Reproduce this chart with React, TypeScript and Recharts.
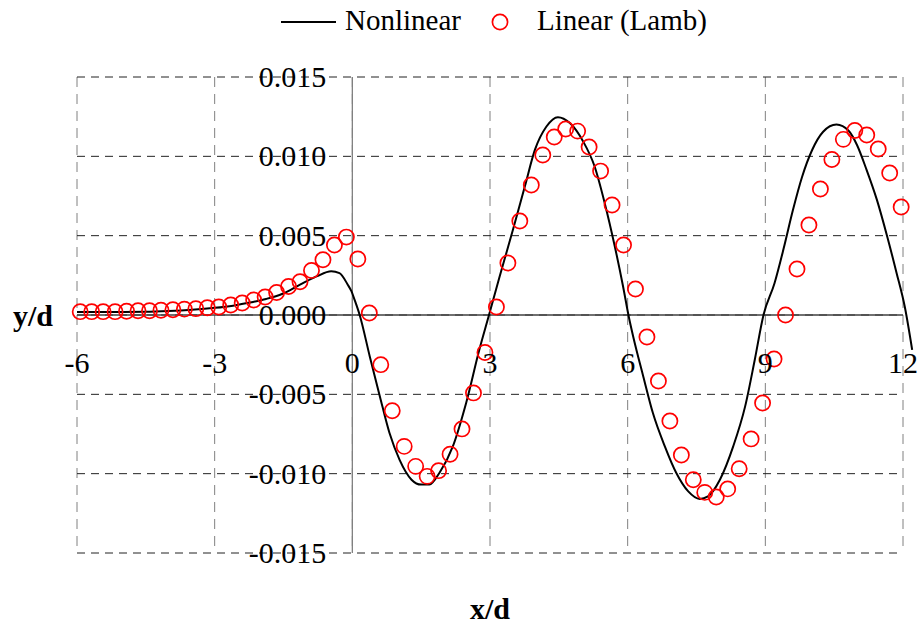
import { ComposedChart, Line, Scatter, XAxis, YAxis, CartesianGrid, ReferenceLine, Legend } from 'recharts';

// Lamb (linear) solution, sampled points
const lambX = [
  -5.93, -5.68, -5.43, -5.17, -4.92, -4.67, -4.42, -4.17, -3.91, -3.66, -3.41, -3.16,
  -2.91, -2.65, -2.4, -2.15, -1.9, -1.65, -1.39, -1.14, -0.89, -0.64, -0.39, -0.13,
  0.12, 0.37, 0.62, 0.87, 1.13, 1.38, 1.63, 1.88, 2.13, 2.39, 2.64, 2.89,
  3.14, 3.39, 3.65, 3.9, 4.15, 4.4, 4.65, 4.91, 5.16, 5.41, 5.66, 5.91,
  6.17, 6.42, 6.67, 6.92, 7.17, 7.43, 7.68, 7.93, 8.18, 8.43, 8.69, 8.94,
  9.19, 9.44, 9.69, 9.95, 10.2, 10.45, 10.7, 10.95, 11.21, 11.46, 11.71, 11.96,
];
const lambY = [
  0.00021, 0.00021, 0.00021, 0.00021, 0.00024, 0.00027, 0.00027, 0.0003, 0.00033, 0.00037, 0.0004, 0.00046,
  0.0005, 0.00063, 0.00076, 0.00095, 0.00113, 0.00142, 0.0018, 0.0021, 0.00281, 0.00348, 0.00441, 0.00491,
  0.00353, 0.00013, -0.00313, -0.00603, -0.00828, -0.00954, -0.01017, -0.00981, -0.00878, -0.00718, -0.00491, -0.00236,
  0.0005, 0.00328, 0.00592, 0.00819, 0.01008, 0.01122, 0.01172, 0.01159, 0.01059, 0.00907, 0.00693, 0.00441,
  0.00164, -0.00139, -0.00416, -0.00668, -0.00882, -0.01038, -0.01118, -0.01147, -0.01096, -0.00969, -0.00781, -0.00555,
  -0.00277, 0.0, 0.0029, 0.00567, 0.00794, 0.0098, 0.01107, 0.01163, 0.01134, 0.01046, 0.00895, 0.00681,
];

// Nonlinear free-surface profile
const nonlinearX = [
  -6.0, -5.0, -4.5, -4.0, -3.5, -3.0, -2.6, -2.2, -1.88, -1.52, -1.14, -0.78, -0.46, -0.28, -0.1, -0.02,
  0.05, 0.16, 0.38, 0.6, 0.81, 1.03, 1.29, 1.5, 1.68, 1.9, 2.19, 2.48, 2.77, 2.96,
  3.21, 3.5, 3.76, 3.98, 4.23, 4.48, 4.74, 5.03, 5.28, 5.5, 5.72, 5.9, 6.03,
  6.12, 6.34, 6.55, 6.81, 7.06, 7.32, 7.57, 7.75, 8.01, 8.3, 8.56, 8.77, 8.96,
  9.2, 9.4, 9.6, 9.8, 10.02, 10.26, 10.55, 10.82, 11.0, 11.2, 11.43, 11.66, 11.86, 12.04, 12.2,
];
const nonlinearY = [
  0.00019, 0.00019, 0.0002, 0.00025, 0.00033, 0.00045, 0.00059, 0.0008, 0.00101, 0.00134, 0.00191, 0.00243, 0.00275, 0.00264, 0.00191, 0.0015,
  0.00095, 0.0, -0.00261, -0.00513, -0.00744, -0.00913, -0.01038, -0.01069, -0.01069, -0.00994, -0.00828, -0.00554, -0.00216, -0.00019,
  0.00243, 0.00537, 0.00811, 0.01042, 0.01188, 0.01247, 0.0121, 0.01094, 0.00936, 0.00705, 0.00432, 0.0018, -0.00019,
  -0.00135, -0.00387, -0.00618, -0.00828, -0.00996, -0.01112, -0.01159, -0.01143, -0.01038, -0.00828, -0.00576, -0.00282, 0.0,
  0.002, 0.0042, 0.0066, 0.0087, 0.0104, 0.01155, 0.012, 0.0116, 0.0107, 0.0092, 0.00727, 0.0049, 0.00265, 0.0005, -0.0022,
];

const xTicks = [-6, -3, 0, 3, 6, 9, 12];
const yTicks = [-0.015, -0.01, -0.005, 0, 0.005, 0.01, 0.015];

const lambData = lambX.map((x, i) => ({ x, y: lambY[i] }));
const nonlinearData = nonlinearX.map((x, i) => ({ x, y: nonlinearY[i] }));

const W = 917;
const H = 625;
const LEGEND_H = 40;
const AXIS_SIZE = 30;
const PLOT_LEFT = 77;
const PLOT_TOP = 77;
const PLOT_RIGHT = 14;
const PLOT_BOTTOM = 72;
const PLOT_W = W - PLOT_LEFT - PLOT_RIGHT;
const PLOT_H = H - PLOT_TOP - PLOT_BOTTOM;
// where the axes cross (x = 0, y = 0)
const AXIS_X = PLOT_LEFT + (PLOT_W * 6) / 18;
const ZERO_Y = PLOT_TOP + PLOT_H / 2;

const SERIF = '"Liberation Serif", "Times New Roman", serif';
const RED = '#ff0000';

const XTick = ({ x, payload }: any) => (
  <text x={x} y={ZERO_Y + 58} textAnchor="middle" fontFamily={SERIF} fontSize={30} fill="#000">
    {payload.value}
  </text>
);

const YTick = ({ y, payload }: any) => (
  <text x={AXIS_X - 26} y={y + 10} textAnchor="end" fontFamily={SERIF} fontSize={30} fill="#000">
    {Number(payload.value).toFixed(3)}
  </text>
);

const XTitle = () => (
  <text x={PLOT_LEFT + PLOT_W / 2} y={619} textAnchor="middle" fontFamily={SERIF} fontSize={30} fontWeight="bold" fill="#000">
    x/d
  </text>
);

const YTitle = () => (
  <text x={13} y={326} fontFamily={SERIF} fontSize={30} fontWeight="bold" fill="#000">
    y/d
  </text>
);

const LegendRow = () => (
  <svg width={W} height={LEGEND_H} style={{ display: 'block' }}>
    <line x1={281} x2={336} y1={22} y2={22} stroke="#000" strokeWidth={2} />
    <text x={345} y={30} fontFamily={SERIF} fontSize={29} fill="#000">Nonlinear</text>
    <circle cx={500} cy={22} r={7.6} fill="none" stroke={RED} strokeWidth={1.7} />
    <text x={537} y={30} fontFamily={SERIF} fontSize={29} fill="#000">Linear (Lamb)</text>
  </svg>
);

const ring = (p: any) => (
  <circle cx={p.cx} cy={p.cy} r={7.6} fill="none" stroke={RED} strokeWidth={1.7} />
);

export default function App() {
  return (
    <div style={{ position: 'absolute', left: 0, top: 0, width: W, height: H, background: '#fff' }}>
      {/* the tail of the curve and the end rings run slightly past the frame */}
      <style>
        {'.recharts-line, .recharts-line *, .recharts-scatter, .recharts-scatter * { clip-path: none !important; }'}
      </style>
      <ComposedChart
        width={W}
        height={H}
        style={{ overflow: 'visible' }}
        margin={{
          top: PLOT_TOP - LEGEND_H,
          right: PLOT_RIGHT,
          bottom: PLOT_BOTTOM - AXIS_SIZE,
          left: PLOT_LEFT - AXIS_SIZE,
        }}
      >
        <CartesianGrid horizontal={false} stroke="#808080" strokeDasharray="10 7" strokeWidth={1} />
        <CartesianGrid vertical={false} stroke="#222" strokeDasharray="8 6" strokeWidth={1} />
        <XAxis
          type="number"
          dataKey="x"
          domain={[-6, 12]}
          ticks={xTicks}
          interval={0}
          allowDataOverflow
          height={AXIS_SIZE}
          axisLine={false}
          tickLine={false}
          tick={(p: any) => <XTick {...p} />}
          label={<XTitle />}
        />
        <YAxis
          type="number"
          dataKey="y"
          domain={[-0.015, 0.015]}
          ticks={yTicks}
          interval={0}
          width={AXIS_SIZE}
          axisLine={false}
          tickLine={false}
          tick={(p: any) => <YTick {...p} />}
          label={<YTitle />}
        />
        <Legend verticalAlign="top" content={() => <LegendRow />} wrapperStyle={{ top: 0, left: 0, width: W }} />
        <ReferenceLine x={0} stroke="#808080" strokeWidth={1.3} />
        <ReferenceLine y={0} stroke="#404040" strokeWidth={1.3} />
        <Line
          data={nonlinearData}
          dataKey="y"
          type="monotone"
          stroke="#000"
          strokeWidth={2}
          dot={false}
          activeDot={false}
          isAnimationActive={false}
        />
        <Scatter data={lambData} dataKey="y" shape={ring} isAnimationActive={false} />
      </ComposedChart>
    </div>
  );
}
